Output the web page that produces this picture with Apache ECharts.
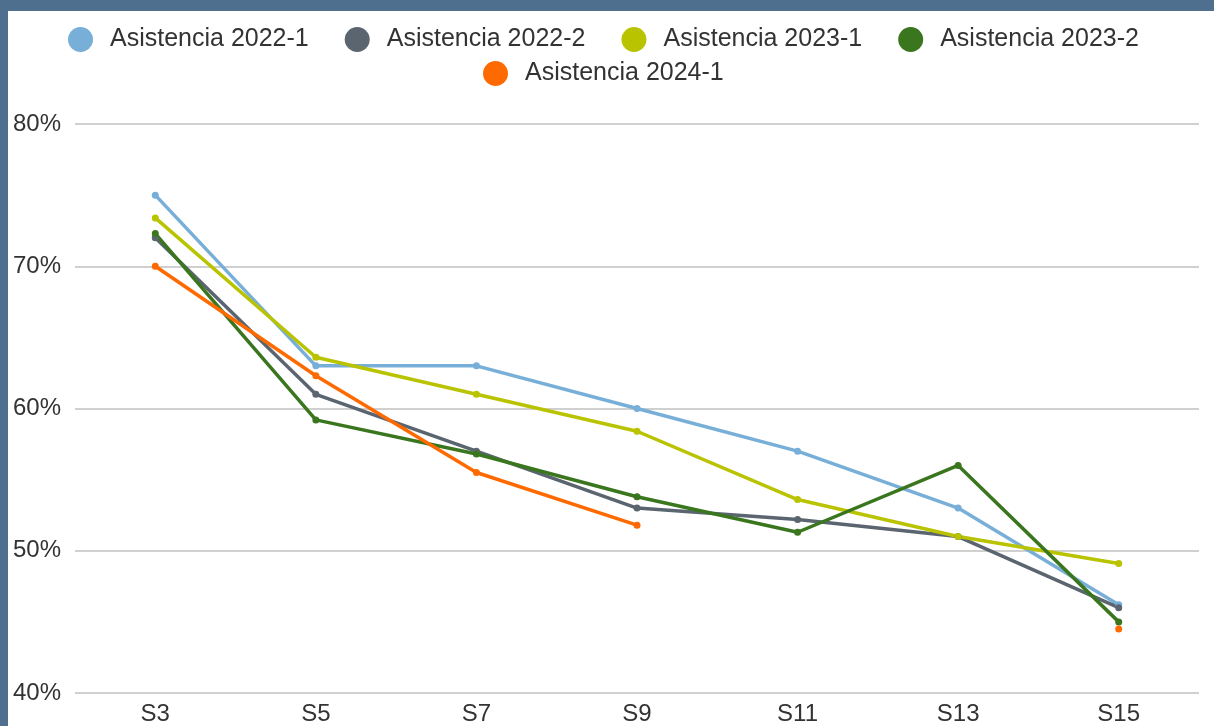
<!DOCTYPE html>
<html lang="es">
<head>
    <meta charset="UTF-8">
    <title>Asistencia</title>
    <style>
        html, body {
            margin: 0;
            padding: 0;
            width: 100%;
            height: 100%;
            overflow: hidden;
            background: #4f6f8e;
        }

        #chart {
            position: absolute;
            left: 8px;
            top: 11px;
            width: 1206px;
            height: 715px;
            background: #ffffff;
        }
    </style>
</head>
<body>
<div id="chart"></div>

<script src="https://cdn.jsdelivr.net/npm/echarts@6/dist/echarts.min.js"></script>
<script>
    // semanas
    var semanas = ['S3', 'S5', 'S7', 'S9', 'S11', 'S13', 'S15'];

    // porcentaje de asistencia por periodo
    var asis20221 = [75.0, 63.0, 63.0, 60.0, 57.0, 53.0, 46.2];
    var asis20222 = [72.0, 61.0, 57.0, 53.0, 52.2, 51.0, 46.0];
    var asis20231 = [73.4, 63.6, 61.0, 58.4, 53.6, 51.0, 49.1];
    var asis20232 = [72.3, 59.2, 56.8, 53.8, 51.3, 56.0, 45.0];
    var asis20241 = [70.0, 62.3, 55.5, 51.8, null, null, 44.5];

    var nombres = ['Asistencia 2022-1', 'Asistencia 2022-2', 'Asistencia 2023-1', 'Asistencia 2023-2', 'Asistencia 2024-1'];
    var colores = ['#78afd8', '#5a6570', '#b9c300', '#3a761e', '#ff6a00'];
    var datos = [asis20221, asis20222, asis20231, asis20232, asis20241];

    var series = [];
    for (var i = 0; i < datos.length; i++) {
        series.push({
            name: nombres[i],
            type: 'line',
            data: datos[i],
            symbol: 'circle',
            symbolSize: 7,
            showAllSymbol: true,
            connectNulls: false,
            lineStyle: {width: 3.5, color: colores[i]},
            itemStyle: {color: colores[i]}
        });
    }

    var legendText = {
        fontFamily: 'Liberation Sans, Arial, sans-serif',
        fontSize: 25,
        color: '#333',
        padding: [0, 0, 0, 12]
    };

    var myChart = echarts.init(document.getElementById('chart'));
    var option = {
        animation: false,
        color: colores,
        legend: [
            {
                data: nombres.slice(0, 4),
                left: 55,
                top: 11,
                icon: 'circle',
                itemWidth: 25,
                itemHeight: 25,
                itemGap: 36,
                textStyle: legendText
            },
            {
                data: nombres.slice(4),
                left: 470,
                top: 45,
                icon: 'circle',
                itemWidth: 25,
                itemHeight: 25,
                textStyle: legendText
            }
        ],
        grid: {
            left: 67,
            right: 15,
            top: 113,
            bottom: 32,
            containLabel: false
        },
        xAxis: {
            type: 'category',
            data: semanas,
            boundaryGap: true,
            axisLine: {show: false},
            axisTick: {show: false},
            axisLabel: {
                fontFamily: 'Liberation Sans, Arial, sans-serif',
                fontSize: 24,
                color: '#333',
                margin: 9
            }
        },
        yAxis: {
            type: 'value',
            min: 40,
            max: 80,
            interval: 10,
            axisLine: {show: false},
            axisTick: {show: false},
            axisLabel: {
                formatter: '{value}%',
                fontFamily: 'Liberation Sans, Arial, sans-serif',
                fontSize: 24,
                color: '#333',
                margin: 14
            },
            splitLine: {lineStyle: {color: '#d0d0d0', width: 2}}
        },
        series: series
    };
    myChart.setOption(option);
</script>
</body>
</html>
